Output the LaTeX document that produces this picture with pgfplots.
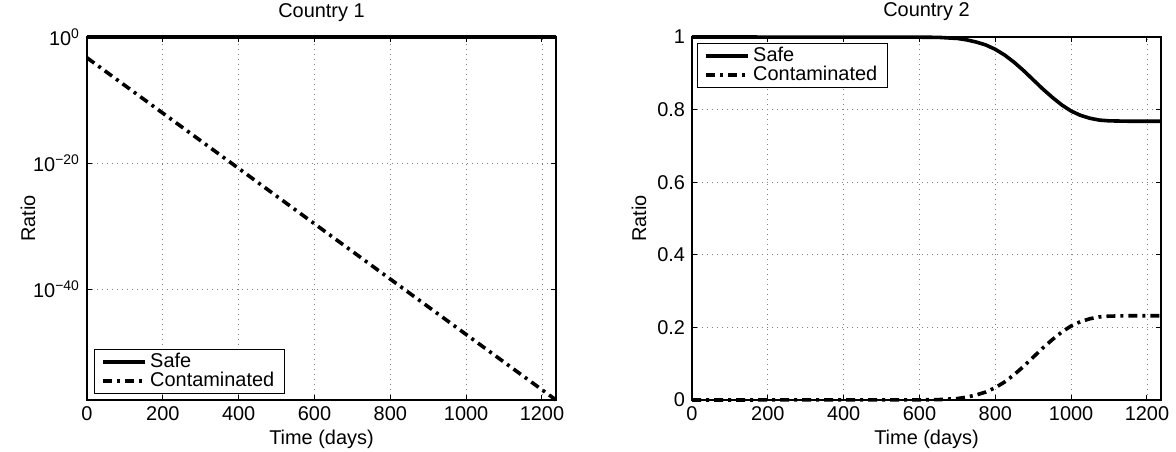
\documentclass[border=0pt]{standalone}
\usepackage{fontspec}
\setmainfont{Liberation Sans}
\usepackage{pgfplots}
\pgfplotsset{compat=1.18}

\pgfplotsset{
  mstyle/.style={
    scale only axis, width=234.5bp, height=181.5bp,
    font=\fontsize{10}{12}\selectfont,
    xmin=0, xmax=1237, xtick={0,200,400,600,800,1000,1200},
    axis line style={line width=0.8bp},
    tick align=inside, major tick length=2.5bp,
    tick style={line width=0.5bp, black},
    grid=major,
    major grid style={line width=0.4bp, gray, dash pattern=on 0.5bp off 2bp},
    /pgf/number format/assume math mode=true,
    /pgf/number format/set thousands separator={},
    xlabel={Time (days)}, ylabel={Ratio},
    every axis title shift=0pt,
    title style={at={(axis description cs:0.5,1)}, anchor=base, yshift=10bp},
    xlabel style={at={(axis description cs:0.5,0)}, anchor=base, yshift=-22bp},
    clip=false,
    legend cell align=left,
    legend image code/.code={\draw[##1] (0bp,0bp) -- (21bp,0bp);},
    legend style={draw=black, line width=0.6bp, inner xsep=3.5bp, inner ysep=1.5bp,
      font=\fontsize{10}{12}\selectfont,
      nodes={text height=7.5bp, text depth=2bp, inner ysep=0bp, inner xsep=1.5bp}},
  },
  safe/.style={black, line width=1.8bp, no marks, solid},
  cont/.style={black, line width=1.8bp, no marks,
    dash pattern=on 4.5bp off 2.5bp on 1.5bp off 2.5bp},
}

\begin{document}
\begin{tikzpicture}
\useasboundingbox (-43.5bp,-26bp) rectangle (544.5bp,200bp);

% Country 1 (log scale)
\begin{axis}[mstyle, ymode=log, ymin=2.5e-58, ymax=1,
  ytick={1e-40,1e-20,1}, yminorticks=false,
  yticklabels={10\textsuperscript{−40},10\textsuperscript{−20},10\textsuperscript{0}},
  title={Country 1},
  ylabel style={at={(axis description cs:-0.126,0.5)}, anchor=center},
  legend style={at={(axis description cs:0.015,0.0165)}, anchor=south west}]
\addplot[safe] coordinates {(0,1) (1237,1)};
\addplot[cont] coordinates {(0,5e-4) (200,8.3e-13) (400,1.4e-21) (600,2.3e-30)
  (800,3.8e-39) (1000,6.3e-48) (1200,1.05e-56) (1237,2.5e-58)};
\legend{Safe, Contaminated}
\end{axis}

% Country 2 (linear)
\begin{axis}[mstyle, at={(302.5bp,0)}, ymin=0, ymax=1,
  ytick={0,0.2,0.4,0.6,0.8,1},
  title={Country 2},
  ylabel style={at={(axis description cs:-0.113,0.5)}, anchor=center},
  legend style={at={(axis description cs:0.0107,0.9835)}, anchor=north west}]
\addplot[safe] coordinates {(0,1) (600,0.9995) (650,0.999) (700,0.996) (725,0.992)
  (750,0.986) (775,0.978) (800,0.966) (825,0.950) (850,0.930) (875,0.907)
  (900,0.882) (925,0.857) (950,0.834) (975,0.813) (1000,0.796) (1025,0.784)
  (1050,0.776) (1075,0.771) (1100,0.769) (1150,0.768) (1237,0.768)};
\addplot[cont] coordinates {(0,0) (600,0.0005) (650,0.001) (700,0.004) (725,0.008)
  (750,0.014) (775,0.022) (800,0.034) (825,0.050) (850,0.070) (875,0.093)
  (900,0.118) (925,0.143) (950,0.166) (975,0.187) (1000,0.204) (1025,0.216)
  (1050,0.224) (1075,0.229) (1100,0.231) (1150,0.232) (1237,0.232)};
\legend{Safe, Contaminated}
\end{axis}
\end{tikzpicture}
\end{document}
